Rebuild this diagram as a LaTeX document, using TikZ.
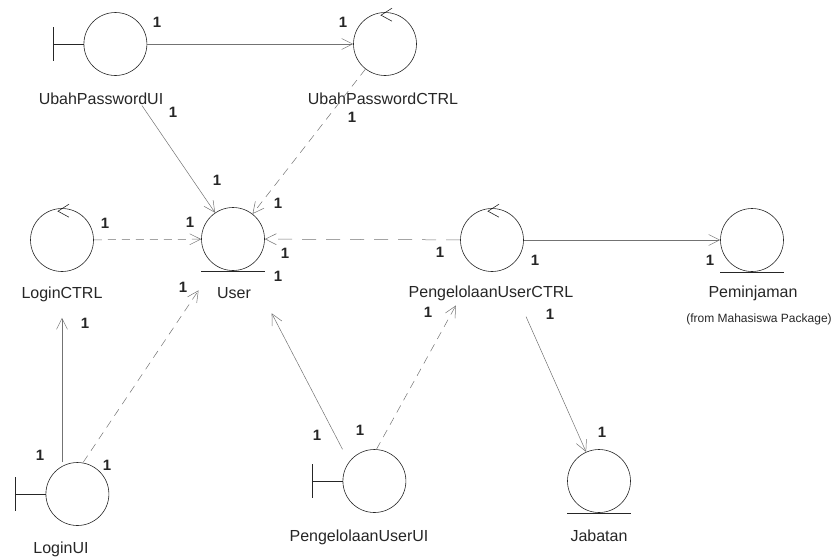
\documentclass[tikz,border=0pt]{standalone}
\usepackage{fontspec}
\setmainfont{Liberation Sans}
\usetikzlibrary{arrows.meta}

\begin{document}
\begin{tikzpicture}[x=1pt, y=-1pt,
    obj/.style={circle, draw=black!85, line width=0.6pt, minimum size=63pt, inner sep=0pt},
    uibox/.style={minimum width=94pt, minimum height=63pt, inner sep=0pt},
    deco/.style={draw=black!85, line width=0.6pt},
    objname/.style={anchor=base, inner sep=0pt, font=\fontsize{16}{18}\selectfont, text=black!85},
    mult/.style={inner sep=0pt, font=\fontsize{15}{17}\selectfont\bfseries, text=black!85},
    assoc/.style={-{Straight Barb[length=11pt,width=11pt]}, draw=black!55, line width=0.5pt},
    dassoc/.style={assoc, dash pattern=on 8pt off 6pt}
]
\useasboundingbox (0,0) rectangle (833,558);

% boundary objects
\node[uibox] (upui) at (100,44) {};
\node[obj, anchor=east] (upuic) at (upui.east) {};
\draw[deco] ([yshift=17pt]upui.west) -- ([yshift=-17pt]upui.west);
\draw[deco] (upui.west) -- (upuic.west);

\node[uibox] (lui) at (62,494) {};
\node[obj, anchor=east] (luic) at (lui.east) {};
\draw[deco] ([yshift=17pt]lui.west) -- ([yshift=-17pt]lui.west);
\draw[deco] (lui.west) -- (luic.west);

\node[uibox] (puui) at (359,481) {};
\node[obj, anchor=east] (puuic) at (puui.east) {};
\draw[deco] ([yshift=17pt]puui.west) -- ([yshift=-17pt]puui.west);
\draw[deco] (puui.west) -- (puuic.west);

% control objects
\node[obj] (upctrl) at (385,44) {};
\node[obj] (lctrl)  at (62,240) {};
\node[obj] (puctrl) at (492,240) {};
\draw[deco] ([shift={(7,-4)}]upctrl.north) -- ([shift={(-4,3)}]upctrl.north) -- ([shift={(7,9)}]upctrl.north);
\draw[deco] ([shift={(7,-4)}]lctrl.north) -- ([shift={(-4,3)}]lctrl.north) -- ([shift={(7,9)}]lctrl.north);
\draw[deco] ([shift={(7,-4)}]puctrl.north) -- ([shift={(-4,3)}]puctrl.north) -- ([shift={(7,9)}]puctrl.north);

% entity objects
\node[obj] (user)   at (233,239) {};
\node[obj] (pinjam) at (752,240) {};
\node[obj] (jab)    at (599,481) {};
\draw[deco] (user.west |- user.south) -- (user.east |- user.south);
\draw[deco] (pinjam.west |- pinjam.south) -- (pinjam.east |- pinjam.south);
\draw[deco] (jab.west |- jab.south) -- (jab.east |- jab.south);

% names
\node[objname] (upuit)   at (101,104) {UbahPasswordUI};
\node[objname] (upctrlt) at (383,104) {UbahPasswordCTRL};
\node[objname] (lctrlt)  at (62,298)  {LoginCTRL};
\node[objname] (usert)   at (234,298) {User};
\node[objname] (puctrlt) at (491,297) {PengelolaanUserCTRL};
\node[objname] (pinjamt) at (753,297) {Peminjaman};
\node[objname, font=\fontsize{12}{14}\selectfont] (pkgt) at (759,322) {(from Mahasiswa Package)};
\node[objname] (luit)    at (61,553)  {LoginUI};
\node[objname] (puuit)   at (359,541) {PengelolaanUserUI};
\node[objname] (jabt)    at (599,541) {Jabatan};

% associations
\draw[assoc]  (upuic) -- (upctrl);
\draw[assoc, shorten <=36pt] (upui) -- (user);
\draw[dassoc] (upctrl) -- (user);
\draw[dassoc] (lctrl) -- (user);
\draw[dassoc, dash pattern=on 14pt off 10pt] (puctrl) -- (user);
\draw[assoc]  (puctrl) -- (pinjam);
\draw[assoc, shorten <=52pt] (puctrl) -- (jab);
\draw[assoc, shorten >=46pt] (lui) -- (lctrl);
\draw[dassoc, shorten >=30pt] (lui) -- (user);
\draw[assoc, shorten >=52pt] (puui) -- (user);
\draw[dassoc, shorten >=43pt] (puui) -- (puctrl);

% multiplicities
\node[mult] (m1)  at (157,22)  {1};
\node[mult] (m2)  at (343,22)  {1};
\node[mult] (m3)  at (173,112) {1};
\node[mult] (m4)  at (352,117) {1};
\node[mult] (m5)  at (217,180) {1};
\node[mult] (m6)  at (278,203) {1};
\node[mult] (m7)  at (105,223) {1};
\node[mult] (m8)  at (190,222) {1};
\node[mult] (m9)  at (285,253) {1};
\node[mult] (m10) at (278,276) {1};
\node[mult] (m11) at (183,287) {1};
\node[mult] (m12) at (85,323)  {1};
\node[mult] (m13) at (40,455)  {1};
\node[mult] (m14) at (107,465) {1};
\node[mult] (m15) at (317,435) {1};
\node[mult] (m16) at (360,430) {1};
\node[mult] (m17) at (428,312) {1};
\node[mult] (m18) at (550,314) {1};
\node[mult] (m19) at (440,252) {1};
\node[mult] (m20) at (535,260) {1};
\node[mult] (m21) at (710,260) {1};
\node[mult] (m22) at (602,432) {1};
\end{tikzpicture}
\end{document}
